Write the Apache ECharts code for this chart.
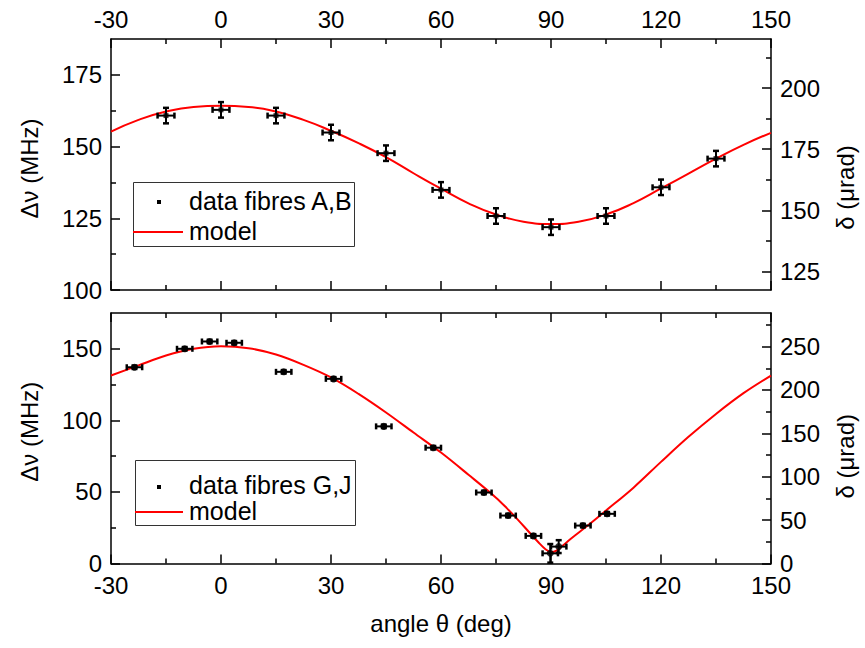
<!DOCTYPE html>
<html>
<head>
<meta charset="utf-8">
<script src="https://cdn.jsdelivr.net/npm/echarts@6/dist/echarts.min.js"></script>
<style>html,body{margin:0;padding:0;background:#fff}#c{width:865px;height:648px}</style>
</head>
<body>
<div id="c"></div>
<script>
// ---------- data ----------
const xTicks = [-30, 0, 30, 60, 90, 120, 150];

// top panel: fibres A,B
const topTheta = [-15, 0, 15, 30, 45, 60, 75, 90, 105, 120, 135];
const topDnu   = [160.8, 162.8, 160.8, 154.9, 147.7, 134.9, 125.8, 121.9, 125.8, 135.8, 145.8];
const topErrTheta = [2.3, 2.3, 2.3, 2.3, 2.3, 2.3, 2.3, 2.3, 2.3, 2.3, 2.3];
const topErrDnu   = [2.7, 2.7, 2.7, 2.7, 2.7, 2.7, 2.7, 2.7, 2.7, 2.7, 2.7];
const topModelTheta = [-30, -22.5, -15, -7.5, 0, 7.5, 15, 22.5, 30, 37.5, 45, 52.5, 60, 67.5, 75, 82.5, 90, 97.5, 105, 112.5, 120, 127.5, 135, 142.5, 150];
const topModelDnu   = [155.2, 159.3, 162.2, 163.8, 164.2, 163.8, 162.2, 159.3, 155.5, 151.2, 146.3, 140.7, 135.3, 130.2, 126.3, 123.8, 123.0, 123.8, 126.3, 130.3, 135.4, 140.6, 145.8, 150.6, 154.8];
const topLeftTicks  = [100, 125, 150, 175];
const topLeftMinor  = [112.5, 137.5, 162.5];
const topRightTicks = [125, 150, 175, 200];
const topRightMinor = [137.5, 162.5, 187.5, 212.5];

// bottom panel: fibres G,J
const botTheta = [-23.6, -9.9, -3.1, 3.6, 17.1, 30.7, 44.4, 57.9, 71.7, 78.3, 85.2, 89.8, 92.1, 98.7, 105.3];
const botDnu   = [137.1, 150.0, 155.1, 154.2, 133.9, 129.0, 95.8, 80.9, 49.6, 33.5, 19.3, 7.1, 11.8, 26.5, 34.7];
const botErrTheta = [2.1, 2.1, 2.1, 2.1, 2.1, 2.1, 2.1, 2.1, 2.1, 2.1, 2.1, 2.1, 2.1, 2.1, 2.1];
const botErrDnu   = [1.2, 1.2, 1.2, 1.2, 1.2, 1.2, 1.2, 1.2, 1.2, 1.2, 1.2, 6.5, 4.5, 1.2, 1.2];
const botModelTheta = [-30, -22.5, -15, -7.5, 0, 7.5, 15, 22.5, 30, 37.5, 45, 52.5, 60, 67.5, 75, 78, 81, 84, 86.5, 88.5, 90, 91.5, 93, 95.5, 100, 105, 112.5, 120, 127.5, 135, 142.5, 150];
const botModelDnu   = [131.3, 138.4, 145.3, 150.0, 151.8, 150.4, 146.0, 138.8, 130.0, 118.5, 105.5, 91.5, 77.5, 62.0, 46.0, 38.5, 30.5, 22.0, 15.0, 10.0, 8.0, 9.0, 12.0, 17.5, 26.5, 37.0, 53.0, 71.0, 88.5, 104.5, 119.0, 131.3];
const botLeftTicks  = [0, 50, 100, 150];
const botLeftMinor  = [25, 75, 125];
const botRightTicks = [0, 50, 100, 150, 200, 250];
const botRightMinor = [25, 75, 125, 175, 225, 275];

// ---------- chart ----------
const FONT = 'Liberation Sans, Arial, sans-serif';
const FS = 24;
const chart = echarts.init(document.getElementById('c'), null, {renderer: 'svg'});

const axLine = {show: true, onZero: false, lineStyle: {color: '#000', width: 1.5}};
const txt = {color: '#000', fontFamily: FONT, fontSize: FS};

function xAx(grid, pos, labels, margin, extra) {
  return Object.assign({
    type: 'value', gridIndex: grid, position: pos, min: -30, max: 150, interval: 30,
    axisLine: axLine, splitLine: {show: false},
    axisTick: {show: true, inside: true, length: 9, lineStyle: {color: '#000', width: 1.5}},
    minorTick: {show: true, splitNumber: 2, length: 5, lineStyle: {color: '#000', width: 1.5}},
    axisLabel: labels ? Object.assign({show: true, margin: margin, lineHeight: 20}, txt) : {show: false}
  }, extra || {});
}
function yAx(grid, pos, min, max, ticks, withLabels, len, extra) {
  return Object.assign({
    type: 'value', gridIndex: grid, position: pos, min: min, max: max,
    axisLine: withLabels ? axLine : {show: false, onZero: false}, splitLine: {show: false},
    axisTick: {show: true, inside: true, length: len, customValues: ticks, lineStyle: {color: '#000', width: 1.5}},
    axisLabel: withLabels ? Object.assign({show: true, margin: 9, lineHeight: 18, customValues: ticks}, txt) : {show: false}
  }, extra || {});
}
function nameOpt(name, gap, padding) {
  return {name: name, nameLocation: 'middle', nameRotate: 90, nameGap: gap,
    nameTextStyle: Object.assign({padding: padding}, txt)};
}

function errRender(params, api) {
  const x = api.value(0), y = api.value(1), ex = api.value(2), ey = api.value(3);
  const c = api.coord([x, y]);
  const l = api.coord([x - ex, y]), r = api.coord([x + ex, y]);
  const t = api.coord([x, y + ey]), b = api.coord([x, y - ey]);
  const st = {stroke: '#000', lineWidth: 2};
  const cs = {stroke: '#000', lineWidth: 2.5};
  const h = 3;
  return {type: 'group', children: [
    {type: 'line', shape: {x1: l[0], y1: c[1], x2: r[0], y2: c[1]}, style: st},
    {type: 'line', shape: {x1: c[0], y1: t[1], x2: c[0], y2: b[1]}, style: st},
    {type: 'line', shape: {x1: l[0], y1: c[1] - h, x2: l[0], y2: c[1] + h}, style: cs},
    {type: 'line', shape: {x1: r[0], y1: c[1] - h, x2: r[0], y2: c[1] + h}, style: cs},
    {type: 'line', shape: {x1: c[0] - h, y1: t[1], x2: c[0] + h, y2: t[1]}, style: cs},
    {type: 'line', shape: {x1: c[0] - h, y1: b[1], x2: c[0] + h, y2: b[1]}, style: cs}
  ]};
}

const zip = (a, b) => a.map((v, i) => [v, b[i]]);
const zip4 = (a, b, c, d) => a.map((v, i) => [v, b[i], c[i], d[i]]);

const option = {
  backgroundColor: '#fff',
  animation: false,
  grid: [
    {left: 111, top: 39, width: 667, height: 251},
    {left: 111, top: 313, width: 667, height: 250.5}
  ],
  xAxis: [
    xAx(0, 'top', true, 10),
    xAx(0, 'bottom', false, 9),
    xAx(1, 'bottom', true, 12, {name: 'angle θ (deg)', nameLocation: 'middle', nameGap: 48, nameTextStyle: txt}),
    xAx(1, 'top', false, 9)
  ],
  yAxis: [
    yAx(0, 'left', 100, 187.5, topLeftTicks, true, 9, nameOpt('Δν (MHz)', 70, [0, 8, 0, 0])),
    yAx(0, 'left', 100, 187.5, topLeftMinor, false, 5),
    yAx(0, 'right', 117.4, 220.1, topRightTicks, true, 9, nameOpt('δ (μrad)', 62, [0, 46, 0, 0])),
    yAx(0, 'right', 117.4, 220.1, topRightMinor, false, 5),
    yAx(1, 'left', 0, 175, botLeftTicks, true, 9, nameOpt('Δν (MHz)', 70, [0, 0, 0, 13])),
    yAx(1, 'left', 0, 175, botLeftMinor, false, 5),
    yAx(1, 'right', 0, 288.75, botRightTicks, true, 9, nameOpt('δ (μrad)', 62, [0, 36, 0, 0])),
    yAx(1, 'right', 0, 288.75, botRightMinor, false, 5)
  ],
  series: [
    {type: 'line', name: 'model', xAxisIndex: 0, yAxisIndex: 0, data: zip(topModelTheta, topModelDnu),
      smooth: 0.5, showSymbol: false, symbol: 'none', lineStyle: {color: '#ff0000', width: 2}, z: 2},
    {type: 'custom', name: 'data fibres A,B err', xAxisIndex: 0, yAxisIndex: 0, renderItem: errRender,
      data: zip4(topTheta, topDnu, topErrTheta, topErrDnu), z: 3},
    {type: 'scatter', name: 'data fibres A,B', xAxisIndex: 0, yAxisIndex: 0, data: zip(topTheta, topDnu),
      symbol: 'rect', symbolSize: 5, itemStyle: {color: '#000'}, z: 4},

    {type: 'line', name: 'model ', xAxisIndex: 2, yAxisIndex: 4, data: zip(botModelTheta, botModelDnu),
      smooth: 0.35, showSymbol: false, symbol: 'none', lineStyle: {color: '#ff0000', width: 2}, z: 2},
    {type: 'custom', name: 'data fibres G,J err', xAxisIndex: 2, yAxisIndex: 4, renderItem: errRender,
      data: zip4(botTheta, botDnu, botErrTheta, botErrDnu), z: 3},
    {type: 'scatter', name: 'data fibres G,J', xAxisIndex: 2, yAxisIndex: 4, data: zip(botTheta, botDnu),
      symbol: 'circle', symbolSize: 7, itemStyle: {color: '#000'}, z: 4}
  ],
  graphic: [
    // legend top
    {type: 'rect', left: 133, top: 182, shape: {width: 221, height: 64}, style: {fill: '#fff', stroke: '#333', lineWidth: 1}, z: 10},
    {type: 'rect', left: 157, top: 200, shape: {width: 4, height: 4}, style: {fill: '#000'}, z: 11},
    {type: 'text', left: 189, top: 188, style: {text: 'data fibres A,B', fill: '#000', font: '25px ' + FONT}, z: 11},
    {type: 'line', shape: {x1: 133, y1: 232, x2: 183, y2: 232}, style: {stroke: '#ff0000', lineWidth: 2}, z: 11},
    {type: 'text', left: 189, top: 218, style: {text: 'model', fill: '#000', font: '25px ' + FONT}, z: 11},
    // legend bottom
    {type: 'rect', left: 135, top: 460, shape: {width: 220, height: 65}, style: {fill: '#fff', stroke: '#333', lineWidth: 1}, z: 10},
    {type: 'rect', left: 157, top: 485, shape: {width: 4, height: 4}, style: {fill: '#000'}, z: 11},
    {type: 'text', left: 189, top: 472, style: {text: 'data fibres G,J', fill: '#000', font: '25px ' + FONT}, z: 11},
    {type: 'line', shape: {x1: 135, y1: 512, x2: 183, y2: 512}, style: {stroke: '#ff0000', lineWidth: 2}, z: 11},
    {type: 'text', left: 189, top: 498, style: {text: 'model', fill: '#000', font: '25px ' + FONT}, z: 11}
  ]
};
chart.setOption(option);
</script>
</body>
</html>
